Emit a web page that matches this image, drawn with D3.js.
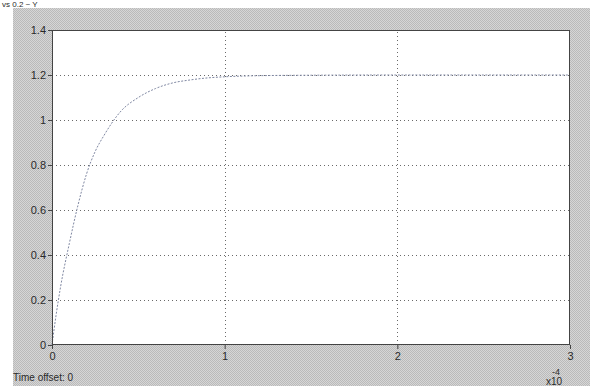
<!DOCTYPE html>
<html>
<head>
<meta charset="utf-8">
<script src="https://cdn.jsdelivr.net/npm/d3@7"></script>
<style>
  html, body { margin: 0; padding: 0; background: #fff; }
  svg { display: block; }
  text { font-family: "Liberation Sans", Arial, sans-serif; fill: #2a2a2a; }
</style>
</head>
<body>
<div id="root"></div>
<script>
// time in units of 1e-4 s, response
const times = [0, 0.025, 0.05, 0.1, 0.15, 0.2, 0.25, 0.3, 0.4, 0.5, 0.6, 0.7, 0.8, 0.9, 1.0, 1.2, 1.5, 2.0, 2.5, 3.0];
const values = [0, 0.14, 0.26, 0.45, 0.62, 0.76, 0.86, 0.93, 1.04, 1.10, 1.14, 1.165, 1.178, 1.187, 1.192, 1.197, 1.199, 1.2, 1.2, 1.2];
const xTicks = [0, 1, 2, 3];
const yTicks = [0, 0.2, 0.4, 0.6, 0.8, 1, 1.2, 1.4];

const width = 590;
const height = 386;
const margin = { top: 30, right: 20, bottom: 41, left: 52 };

const svg = d3.select("#root")
  .append("svg")
  .attr("width", width)
  .attr("height", height);

// dithered grey background like the scanned scope window
const defs = svg.append("defs");
const pat = defs.append("pattern")
  .attr("id", "dither")
  .attr("width", 2)
  .attr("height", 2)
  .attr("patternUnits", "userSpaceOnUse");
pat.append("rect").attr("width", 2).attr("height", 2).attr("fill", "#d6d6d6");
pat.append("rect").attr("width", 1).attr("height", 1).attr("fill", "#bababa");
pat.append("rect").attr("x", 1).attr("y", 1).attr("width", 1).attr("height", 1).attr("fill", "#bababa");

svg.append("rect")
  .attr("x", 13)
  .attr("y", 8)
  .attr("width", width - 13)
  .attr("height", height - 8)
  .attr("fill", "url(#dither)");

// caption strip at the very top
svg.append("text")
  .attr("x", 2)
  .attr("y", 7)
  .attr("font-size", 8)
  .text("vs 0.2 ~ Y");

const x = d3.scaleLinear().domain([0, 3]).range([margin.left, width - margin.right]);
const y = d3.scaleLinear().domain([0, 1.4]).range([height - margin.bottom, margin.top]);

// plot area
svg.append("rect")
  .attr("x", x(0))
  .attr("y", y(1.4))
  .attr("width", x(3) - x(0))
  .attr("height", y(0) - y(1.4))
  .attr("fill", "#ffffff");

// grid
const grid = svg.append("g")
  .attr("stroke", "#6a6a6a")
  .attr("stroke-width", 1)
  .attr("stroke-dasharray", "1,3");
grid.selectAll("line.h")
  .data(yTicks.filter((d) => d > 0 && d < 1.4))
  .enter()
  .append("line")
  .attr("class", "h")
  .attr("x1", x(0))
  .attr("x2", x(3))
  .attr("y1", (d) => Math.round(y(d)) + 0.5)
  .attr("y2", (d) => Math.round(y(d)) + 0.5);
grid.selectAll("line.v")
  .data(xTicks.filter((d) => d > 0 && d < 3))
  .enter()
  .append("line")
  .attr("class", "v")
  .attr("y1", y(0))
  .attr("y2", y(1.4))
  .attr("x1", (d) => Math.round(x(d)) + 0.5)
  .attr("x2", (d) => Math.round(x(d)) + 0.5);

// the response trace
const line = d3.line()
  .x((d, i) => x(times[i]))
  .y((d) => y(d))
  .curve(d3.curveMonotoneX);

svg.append("path")
  .datum(values)
  .attr("d", line)
  .attr("fill", "none")
  .attr("stroke", "#8088a2")
  .attr("stroke-width", 1)
  .attr("stroke-dasharray", "2,1.5");

// axes
const xAxis = d3.axisBottom(x).tickValues(xTicks).tickSize(4).tickPadding(3).tickFormat(d3.format("d"));
const yAxis = d3.axisLeft(y).tickValues(yTicks).tickSize(4).tickPadding(2).tickFormat((d) => String(+d.toFixed(1)));

const gx = svg.append("g")
  .attr("transform", `translate(0,${y(0)})`)
  .call(xAxis);
const gy = svg.append("g")
  .attr("transform", `translate(${x(0)},0)`)
  .call(yAxis);

[gx, gy].forEach((g) => {
  g.select(".domain").remove();
  g.selectAll("line").attr("stroke", "#444");
  g.selectAll("text")
    .attr("font-size", 11)
    .attr("fill", "#2a2a2a")
    .style("font-family", "'Liberation Sans', Arial, sans-serif");
});

// box
svg.append("rect")
  .attr("x", x(0) + 0.5)
  .attr("y", y(1.4) + 0.5)
  .attr("width", x(3) - x(0) - 1)
  .attr("height", y(0) - y(1.4) - 1)
  .attr("fill", "none")
  .attr("stroke", "#444")
  .attr("stroke-width", 1);

// exponent and time offset notes
svg.append("text")
  .attr("x", 546)
  .attr("y", 385)
  .attr("font-size", 10)
  .text("x10");
svg.append("text")
  .attr("x", 552)
  .attr("y", 375)
  .attr("font-size", 9)
  .text("-4");
svg.append("text")
  .attr("x", 13)
  .attr("y", 381)
  .attr("font-size", 10)
  .text("Time offset:  0");
</script>
</body>
</html>
